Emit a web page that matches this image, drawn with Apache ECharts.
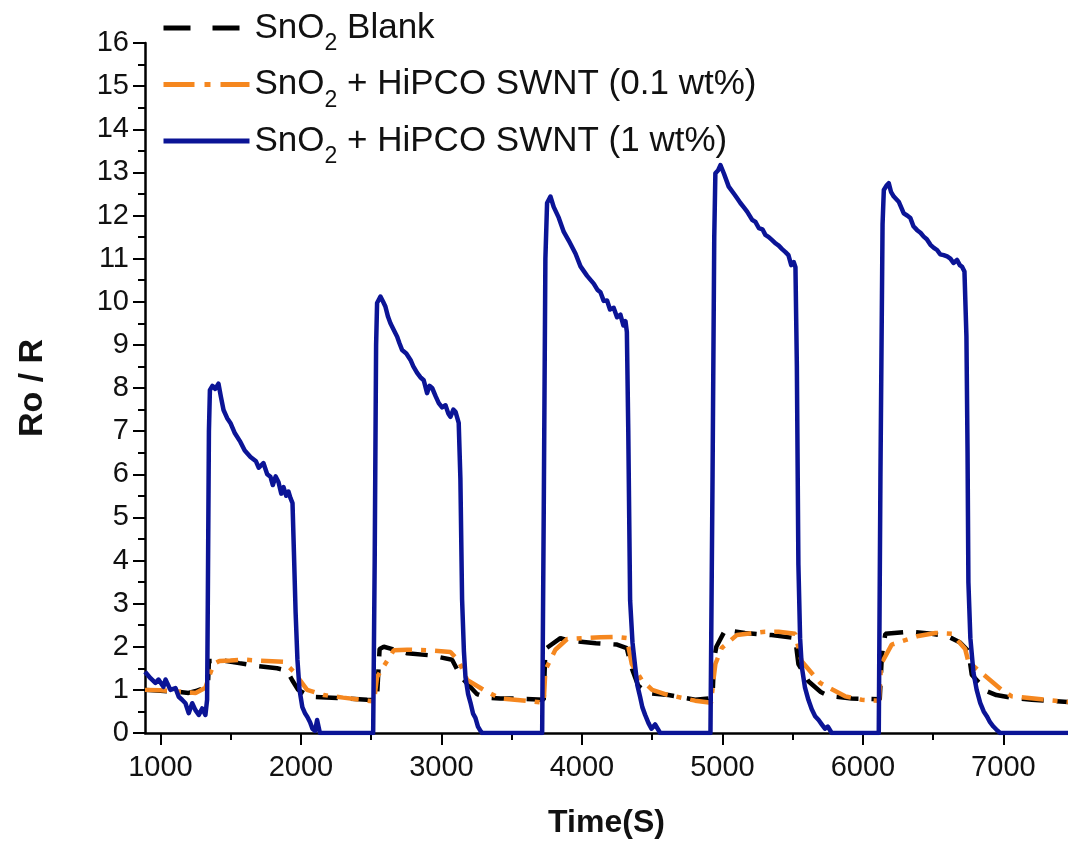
<!DOCTYPE html>
<html><head><meta charset="utf-8">
<script src="https://cdn.jsdelivr.net/npm/echarts@6/dist/echarts.min.js"></script>
<style>html,body{margin:0;padding:0;background:#fff}#c{width:1068px;height:846px}</style>
</head><body><div id="c"></div>
<script>
// ---- data ----
const xTickLabels = [1000, 2000, 3000, 4000, 5000, 6000, 7000];
const xMinorTicks = [1500, 2500, 3500, 4500, 5500, 6500, 7500];
const seriesNames = ['SnO2 Blank', 'SnO2 + HiPCO SWNT (0.1 wt%)', 'SnO2 + HiPCO SWNT (1 wt%)'];

const blankData = [
[890,1.0],[1000,0.98],[1100,0.96],[1200,0.93],[1260,0.98],[1320,1.05],[1338,1.1],[1345,1.67],[1450,1.68],[1560,1.62],[1690,1.55],[1830,1.5],[1900,1.45],[1937,1.23],[1980,1.0],[2068,0.84],[2258,0.81],[2471,0.77],[2540,0.76],[2560,1.95],[2590,2.0],[2756,1.85],[2922,1.8],[3076,1.7],[3140,1.3],[3254,0.9],[3320,0.82],[3420,0.8],[3539,0.8],[3728,0.77],[3740,1.95],[3847,2.2],[3900,2.15],[4100,2.08],[4250,2.05],[4319,1.97],[4355,1.5],[4400,1.1],[4461,0.93],[4616,0.88],[4806,0.77],[4901,0.8],[4930,0.85],[4940,1.7],[4957,2.0],[5020,2.39],[5160,2.32],[5351,2.27],[5518,2.2],[5541,1.6],[5612,1.2],[5700,0.95],[5755,0.86],[5921,0.8],[6120,0.78],[6135,1.8],[6160,2.3],[6324,2.35],[6490,2.3],[6600,2.25],[6692,2.1],[6751,1.9],[6775,1.35],[6882,0.97],[6950,0.88],[7060,0.82],[7202,0.77],[7460,0.72]
];

const lowData = [
[890,1.0],[1000,0.99],[1100,0.97],[1250,0.93],[1320,1.05],[1356,1.4],[1380,1.6],[1420,1.67],[1498,1.68],[1600,1.7],[1700,1.68],[1878,1.65],[1949,1.42],[2044,1.0],[2162,0.88],[2300,0.82],[2520,0.73],[2542,1.3],[2661,1.92],[2756,1.93],[2900,1.92],[3064,1.88],[3123,1.67],[3183,1.23],[3301,1.0],[3420,0.8],[3600,0.75],[3728,0.7],[3740,1.46],[3811,1.93],[3895,2.18],[4132,2.22],[4236,2.23],[4319,2.2],[4355,1.6],[4426,1.23],[4500,1.0],[4592,0.9],[4806,0.75],[4920,0.7],[4935,1.2],[4950,1.6],[4995,1.97],[5102,2.27],[5304,2.35],[5400,2.35],[5518,2.3],[5563,1.67],[5696,1.16],[5874,0.85],[5992,0.77],[6115,0.75],[6130,1.6],[6205,2.05],[6395,2.25],[6516,2.32],[6633,2.3],[6728,1.95],[6751,1.65],[6988,1.0],[7060,0.85],[7300,0.77],[7460,0.72]
];

const highData = [
[890,1.42],[929,1.27],[964,1.16],[986,1.24],[1021,1.07],[1036,1.24],[1071,1.0],[1107,1.04],[1130,0.84],[1154,0.77],[1178,0.69],[1201,0.46],[1226,0.69],[1249,0.53],[1273,0.42],[1297,0.57],[1320,0.42],[1332,0.77],[1337,3.0],[1345,7.0],[1352,7.95],[1370,8.05],[1390,7.98],[1413,8.1],[1430,7.8],[1449,7.49],[1475,7.3],[1498,7.19],[1530,6.95],[1569,6.75],[1600,6.55],[1641,6.4],[1680,6.3],[1700,6.15],[1733,6.26],[1760,6.0],[1783,5.94],[1800,5.75],[1820,5.95],[1840,5.82],[1860,5.55],[1876,5.7],[1895,5.5],[1911,5.6],[1925,5.45],[1940,5.33],[1950,4.2],[1962,2.8],[1975,1.7],[1990,1.0],[2010,0.6],[2030,0.45],[2046,0.37],[2065,0.25],[2082,0.1],[2100,0.05],[2115,0.3],[2135,0],
[2514,0],[2525,4],[2535,9.0],[2542,9.97],[2566,10.12],[2585,10.0],[2601,9.89],[2620,9.65],[2637,9.5],[2660,9.35],[2685,9.19],[2700,9.05],[2720,8.88],[2750,8.8],[2780,8.65],[2800,8.5],[2827,8.35],[2850,8.25],[2874,8.18],[2898,7.88],[2915,8.05],[2934,8.0],[2960,7.8],[2981,7.65],[3005,7.55],[3029,7.6],[3050,7.4],[3064,7.33],[3085,7.5],[3100,7.45],[3123,7.19],[3135,5.9],[3147,3.1],[3160,1.9],[3171,1.3],[3190,0.9],[3207,0.7],[3225,0.45],[3242,0.35],[3260,0.15],[3278,0.05],[3290,0],
[3717,0],[3728,5],[3740,11],[3752,12.29],[3776,12.44],[3799,12.2],[3835,11.95],[3871,11.62],[3906,11.42],[3954,11.12],[3990,10.82],[4037,10.6],[4084,10.42],[4110,10.28],[4132,10.22],[4155,10.02],[4179,10.03],[4200,9.82],[4226,9.86],[4250,9.64],[4274,9.7],[4295,9.45],[4310,9.55],[4320,9.3],[4330,7],[4343,3.08],[4360,2.1],[4379,1.54],[4395,1.1],[4414,0.84],[4430,0.6],[4450,0.42],[4474,0.23],[4495,0.1],[4521,0.2],[4557,0],
[4915,0],[4930,6],[4942,11.5],[4950,12.98],[4970,13.05],[4986,13.17],[5010,12.98],[5045,12.67],[5081,12.51],[5105,12.4],[5128,12.29],[5150,12.2],[5176,12.09],[5212,11.9],[5235,11.85],[5259,11.71],[5285,11.68],[5306,11.55],[5330,11.5],[5354,11.43],[5380,11.35],[5401,11.3],[5425,11.22],[5449,11.15],[5470,11.08],[5490,10.85],[5508,10.92],[5520,10.8],[5530,8.5],[5541,3.9],[5553,2.2],[5565,1.54],[5588,1.05],[5612,0.77],[5636,0.55],[5660,0.39],[5685,0.3],[5707,0.2],[5730,0.1],[5750,0.15],[5778,0],
[6113,0],[6125,6],[6140,11.8],[6149,12.59],[6170,12.7],[6184,12.75],[6200,12.55],[6220,12.44],[6255,12.32],[6291,12.05],[6315,12.0],[6338,11.94],[6360,11.75],[6386,11.66],[6410,11.6],[6433,11.51],[6455,11.45],[6481,11.32],[6505,11.25],[6528,11.2],[6550,11.1],[6575,11.08],[6600,11.05],[6623,11.0],[6645,10.9],[6670,10.97],[6690,10.85],[6706,10.81],[6723,10.7],[6737,9.2],[6745,6.5],[6751,3.5],[6765,2.2],[6787,1.4],[6810,1.0],[6835,0.7],[6860,0.5],[6882,0.39],[6905,0.25],[6929,0.15],[6950,0.08],[6977,0],[7460,0]
];

// ---- styles ----
const baseFont = "'Liberation Sans', Arial, sans-serif";
const tickSize = 29;
const axisColor = '#000';
const colors = ['#000000', '#f5871f', '#0b1496'];

const chart = echarts.init(document.getElementById('c'));
chart.setOption({
  animation: false,
  backgroundColor: '#fff',
  grid: { left: 145, right: 0, top: 43, bottom: 113 },
  legend: {
    orient: 'vertical', left: 161, top: 8, padding: 0, itemGap: 9,
    itemWidth: 86, itemHeight: 20,
    itemStyle: { opacity: 0 },
    data: [
      { name: seriesNames[0], lineStyle: { type: [27, 22], width: 5, color: colors[0] } },
      { name: seriesNames[1], lineStyle: { type: [31, 10, 6, 10], width: 5, color: colors[1] } },
      { name: seriesNames[2], lineStyle: { type: 'solid', width: 5, color: colors[2] } }
    ],
    formatter: n => n.replace('SnO2', 'SnO{s|2}'),
    textStyle: {
      fontFamily: baseFont, fontSize: 35, color: '#111', lineHeight: 40,
      rich: { s: { fontFamily: baseFont, fontSize: 23, color: '#111', padding: [32, 0, 0, 0] } }
    }
  },
  xAxis: [{
    type: 'value', min: 890, max: 7460,
    axisLine: { lineStyle: { color: axisColor, width: 2.5 } },
    axisTick: { customValues: xTickLabels, length: 12, lineStyle: { color: axisColor, width: 2 } },
    axisLabel: { customValues: xTickLabels, margin: 20, fontFamily: baseFont, fontSize: tickSize, color: '#111',
      formatter: v => String(v) },
    splitLine: { show: false },
    name: 'Time(S)', nameLocation: 'middle', nameGap: 74,
    nameTextStyle: { fontFamily: baseFont, fontSize: 32, fontWeight: 'bold', color: '#111' }
  }, {
    type: 'value', min: 890, max: 7460, position: 'bottom',
    axisLine: { show: false },
    axisTick: { customValues: xMinorTicks, length: 7, lineStyle: { color: axisColor, width: 2 } },
    axisLabel: { show: false },
    splitLine: { show: false }
  }],
  yAxis: {
    type: 'value', min: 0, max: 16, interval: 1,
    axisLine: { show: true, lineStyle: { color: axisColor, width: 2.5 } },
    axisTick: { show: true, length: 12, lineStyle: { color: axisColor, width: 2 } },
    minorTick: { show: true, splitNumber: 2, length: 7, lineStyle: { color: axisColor, width: 2 } },
    axisLabel: { margin: 16, fontFamily: baseFont, fontSize: tickSize, color: '#111' },
    splitLine: { show: false },
    name: 'Ro / R', nameLocation: 'middle', nameGap: 95, nameRotate: 90,
    nameTextStyle: { fontFamily: baseFont, fontSize: 34, fontWeight: 'bold', color: '#111' }
  },
  series: [
    { name: seriesNames[0], type: 'line', data: blankData, symbol: 'none', z: 2,
      lineStyle: { color: colors[0], width: 4.5, type: [22, 13] }, itemStyle: { color: colors[0] } },
    { name: seriesNames[1], type: 'line', data: lowData, symbol: 'none', z: 3,
      lineStyle: { color: colors[1], width: 4.5, type: [22, 9, 5, 9] }, itemStyle: { color: colors[1] } },
    { name: seriesNames[2], type: 'line', data: highData, symbol: 'none', z: 4,
      lineStyle: { color: colors[2], width: 4.5, join: 'round' }, itemStyle: { color: colors[2] } }
  ]
});
</script>
</body></html>
